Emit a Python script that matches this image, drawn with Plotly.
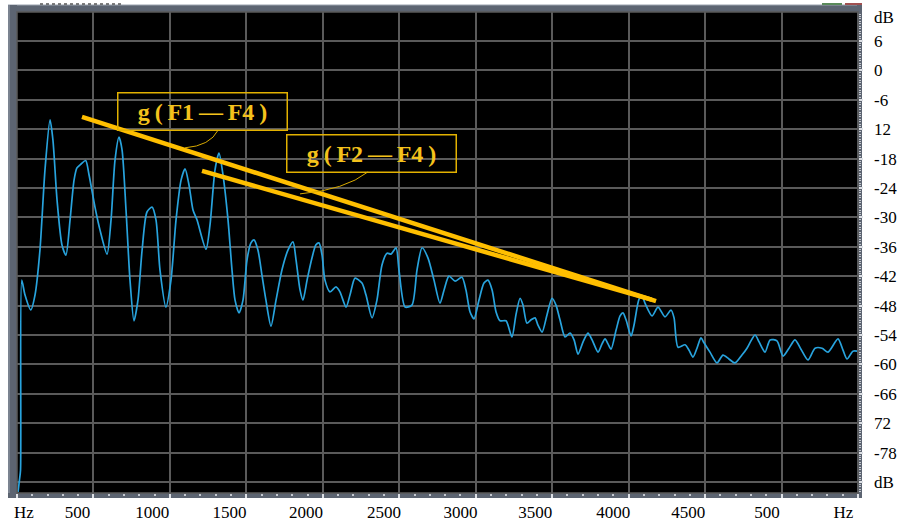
import plotly.graph_objects as go

# ---------------- data ----------------
freq_hz = [
    7, 16, 23, 31, 52, 90, 118, 150, 183, 216, 235, 262, 294, 320, 347, 373, 392, 419, 449, 471,
    510, 543, 589, 615, 641, 667, 687, 713, 739, 765, 791, 818, 850, 883, 909, 935, 974, 1007, 1040, 1073,
    1099, 1125, 1151, 1177, 1236, 1262, 1295, 1321, 1347, 1380, 1406, 1426, 1452, 1478, 1504, 1530, 1550, 1576, 1602, 1628,
    1661, 1694, 1733, 1772, 1805, 1825, 1851, 1870, 1897, 1929, 1955, 1975, 1995, 2014, 2047, 2086, 2112, 2152, 2178, 2211,
    2256, 2282, 2322, 2354, 2387, 2420, 2446, 2479, 2498, 2538, 2583, 2616, 2649, 2688, 2727, 2766, 2793, 2825, 2865, 2910,
    2936, 2963, 2989, 3021, 3054, 3080, 3107, 3133, 3159, 3198, 3237, 3263, 3290, 3309, 3335, 3362, 3388, 3407, 3434, 3466,
    3499, 3525, 3551, 3584, 3617, 3643, 3669, 3702, 3734, 3761, 3800, 3826, 3846, 3865, 3885, 3918, 3944, 3963, 3983, 4016,
    4035, 4068, 4088, 4107, 4153, 4192, 4238, 4277, 4297, 4323, 4369, 4395, 4421, 4447, 4473, 4493, 4532, 4578, 4617, 4656,
    4696, 4741, 4774, 4800, 4827, 4853, 4892, 4925, 4970, 5010, 5049, 5088, 5127, 5173, 5219, 5265, 5304, 5369, 5402, 5428, 5467, 5494,
]
level_db = [
    -86.0, -83.6, -81.6, -42.8, -45.8, -48.9, -45.8, -36.7, -20.3, -10.1, -14.2, -26.5, -35.6, -37.7, -30.5, -22.4, -19.9, -19.1, -18.4, -21.3,
    -27.9, -32.6, -37.5, -30.5, -18.3, -13.6, -16.2, -28.5, -42.8, -51.1, -46.9, -36.7, -28.9, -27.9, -30.5, -40.7, -48.3, -42.8, -30.5, -22.4,
    -20.1, -23.4, -28.5, -30.5, -36.5, -31.6, -20.3, -16.9, -21.3, -30.5, -40.7, -46.9, -49.5, -46.9, -38.7, -35.2, -34.6, -36.7, -41.8, -46.9,
    -52.2, -46.9, -40.7, -36.7, -35.0, -38.7, -44.8, -46.9, -42.8, -38.3, -35.6, -35.2, -37.7, -42.8, -45.2, -44.2, -45.2, -48.3, -45.8, -42.4,
    -43.4, -45.8, -50.5, -46.9, -39.7, -37.3, -37.5, -36.2, -40.7, -48.3, -47.9, -40.7, -36.2, -38.3, -42.8, -47.5, -44.8, -42.0, -43.0, -42.2,
    -44.8, -49.3, -50.7, -46.9, -43.4, -42.8, -44.8, -49.3, -51.1, -51.1, -54.4, -49.9, -46.5, -47.9, -51.6, -50.9, -50.5, -52.0, -53.4, -49.9,
    -46.5, -47.9, -50.9, -54.4, -53.6, -55.0, -57.9, -55.4, -53.6, -55.0, -57.5, -55.8, -54.8, -55.8, -56.9, -53.0, -50.1, -49.5, -50.9, -54.2,
    -52.0, -46.7, -46.0, -47.5, -50.1, -48.3, -50.3, -48.9, -50.5, -56.5, -56.0, -57.1, -58.5, -56.7, -54.6, -55.6, -57.5, -59.7, -58.1, -58.9,
    -59.7, -58.1, -56.7, -55.2, -54.0, -55.4, -57.5, -55.0, -55.2, -58.3, -56.7, -55.0, -56.9, -59.1, -56.7, -56.7, -57.5, -54.8, -57.1, -58.9, -57.3, -57.3,
]

# slope lines g(F1-F4) and g(F2-F4)
g14_hz = [425, 4179]
g14_db = [-9.5, -47.1]
g24_hz = [1210, 4150]
g24_db = [-20.5, -46.8]

# axis text
x_label_pos = [45, 395, 885, 1390, 1890, 2400, 2900, 3390, 3900, 4390, 4905, 5405]
x_labels = ["Hz", "500", "1000", "1500", "2000", "2500", "3000", "3500", "4000", "4500", "500", "Hz"]
y_label_pos = [10.8, 6, 0, -6, -12, -18, -24, -30, -36, -42, -48, -54, -60, -66, -72, -78, -84]
y_labels = ["dB", "6", "0", "-6", "12", "-18", "-24", "-30", "-36", "-42", "-48", "-54", "-60", "-66", "72", "-78", "dB"]

X_RANGE = [0, 5500]
Y_RANGE = [-86.25, 11.92]

BLUE = "#28a3dd"
YELLOW = "#ffbf00"
GRID = "#5a5a5a"
FRAME = "#5c6471"
SERIF = "Liberation Serif, Times New Roman, serif"

fig = go.Figure()
fig.add_trace(go.Scatter(x=freq_hz, y=level_db, mode="lines",
                         line=dict(color=BLUE, width=1.7, shape="spline", smoothing=0.7),
                         xaxis="x", yaxis="y", hoverinfo="skip", showlegend=False))
fig.add_trace(go.Scatter(x=g24_hz, y=g24_db, mode="lines",
                         line=dict(color=YELLOW, width=4.5),
                         xaxis="x2", yaxis="y2", hoverinfo="skip", showlegend=False))
fig.add_trace(go.Scatter(x=g14_hz, y=g14_db, mode="lines",
                         line=dict(color=YELLOW, width=4.5),
                         xaxis="x2", yaxis="y2", hoverinfo="skip", showlegend=False))

L, R, T, B = 17, 40, 12, 30
W, H = 898, 523
PW, PH = W - L - R, H - T - B


def px(xp):
    return (xp - L) / PW


def py(yp):
    return (H - B - yp) / PH


shapes = [
    # frame bands
    dict(type="rect", xref="paper", yref="paper", x0=px(8), x1=px(862), y0=py(12), y1=py(5),
         fillcolor=FRAME, line_width=0, layer="below"),
    dict(type="rect", xref="paper", yref="paper", x0=px(8), x1=px(862), y0=py(5.5), y1=py(4.5),
         fillcolor="#9aa2ae", line_width=0, layer="below"),
    dict(type="rect", xref="paper", yref="paper", x0=px(8), x1=px(17), y0=py(498), y1=py(5),
         fillcolor=FRAME, line_width=0, layer="below"),
    dict(type="rect", xref="paper", yref="paper", x0=px(8), x1=px(10), y0=py(498), y1=py(5),
         fillcolor="#7b8390", line_width=0, layer="below"),
    dict(type="rect", xref="paper", yref="paper", x0=px(8), x1=px(862), y0=py(498), y1=py(493),
         fillcolor=FRAME, line_width=0, layer="below"),
    dict(type="rect", xref="paper", yref="paper", x0=px(857), x1=px(862), y0=py(498), y1=py(5),
         fillcolor=FRAME, line_width=0, layer="below"),
    # window remnants
    dict(type="line", xref="paper", yref="paper", x0=px(40), x1=px(122), y0=py(4), y1=py(4),
         line=dict(color="#555", width=1.5, dash="dot"), layer="below"),
    dict(type="rect", xref="paper", yref="paper", x0=px(822), x1=px(842), y0=py(5), y1=py(3),
         fillcolor="#5a8a5a", line_width=0, layer="below"),
    dict(type="rect", xref="paper", yref="paper", x0=px(845), x1=px(862), y0=py(5), y1=py(3),
         fillcolor="#a05050", line_width=0, layer="below"),
    # plot border
    dict(type="rect", xref="paper", yref="paper", x0=0, x1=1, y0=0, y1=1,
         line=dict(color=GRID, width=1.5), fillcolor="rgba(0,0,0,0)", layer="above"),
    # annotation leaders
    dict(type="path", xref="x2", yref="y2",
         path="M 1315,-12.2 Q 1262,-15.4 1099,-15.8",
         line=dict(color="#d8aa00", width=1)),
    dict(type="path", xref="x2", yref="y2",
         path="M 2296,-20.7 Q 2145,-24.4 1851,-25.2",
         line=dict(color="#d8aa00", width=1)),
]

TS = "\u2009"
box_font = dict(family="Liberation Serif, serif", size=24, color="#f4c21c")
annotations = [
    dict(x=1216, y=-8.3, xref="x2", yref="y2",
         text="<b>g" + TS + "(" + TS + "F1" + TS + "—" + TS + "F4" + TS + ")</b>", showarrow=False,
         font=box_font, bordercolor="#e2b100", borderwidth=1.5, borderpad=4,
         width=160, height=28, bgcolor="rgba(0,0,0,0)"),
    dict(x=2318, y=-17.0, xref="x2", yref="y2",
         text="<b>g" + TS + "(" + TS + "F2" + TS + "—" + TS + "F4" + TS + ")</b>", showarrow=False,
         font=box_font, bordercolor="#e2b100", borderwidth=1.5, borderpad=4,
         width=160, height=28, bgcolor="rgba(0,0,0,0)"),
]

fig.update_layout(
    width=W, height=H, autosize=False,
    margin=dict(l=L, r=R, t=T, b=B, pad=0, autoexpand=False),
    paper_bgcolor="white", plot_bgcolor="black",
    showlegend=False,
    shapes=shapes, annotations=annotations,
    xaxis=dict(range=X_RANGE, tick0=0, dtick=500, showgrid=True, gridcolor=GRID, gridwidth=1.5,
               showticklabels=False, ticks="outside", ticklen=4, tickwidth=2, tickcolor="#dde0e5",
               minor=dict(dtick=100, ticks="outside", ticklen=2, tickwidth=2, tickcolor="#c6cad1", showgrid=False),
               zeroline=False, showline=False, fixedrange=True, automargin=False),
    xaxis2=dict(range=X_RANGE, overlaying="x", anchor="y2", side="bottom",
                tickmode="array", tickvals=x_label_pos, ticktext=x_labels,
                tickfont=dict(family=SERIF, size=17, color="black"),
                showgrid=False, ticks="", zeroline=False, showline=False,
                ticklabelstandoff=7, fixedrange=True, automargin=False),
    yaxis=dict(range=Y_RANGE, side="right", tick0=0, dtick=6, showgrid=True, gridcolor=GRID, gridwidth=1.5,
               showticklabels=False, ticks="outside", ticklen=4, tickwidth=2, tickcolor="#dde0e5",
               minor=dict(dtick=0.5, ticks="outside", ticklen=2, tickwidth=1, tickcolor="#c6cad1", showgrid=False),
               zeroline=False, showline=False, fixedrange=True, automargin=False),
    yaxis2=dict(range=Y_RANGE, overlaying="y", anchor="x2", side="right",
                tickmode="array", tickvals=y_label_pos, ticktext=y_labels,
                tickfont=dict(family=SERIF, size=17, color="black"),
                showgrid=False, ticks="", zeroline=False, showline=False,
                ticklabelstandoff=15, fixedrange=True, automargin=False),
)

fig.write_html("out.html", config=dict(displayModeBar=False, responsive=False),
               post_script="document.body.style.margin='0';document.body.style.overflow='hidden';")
